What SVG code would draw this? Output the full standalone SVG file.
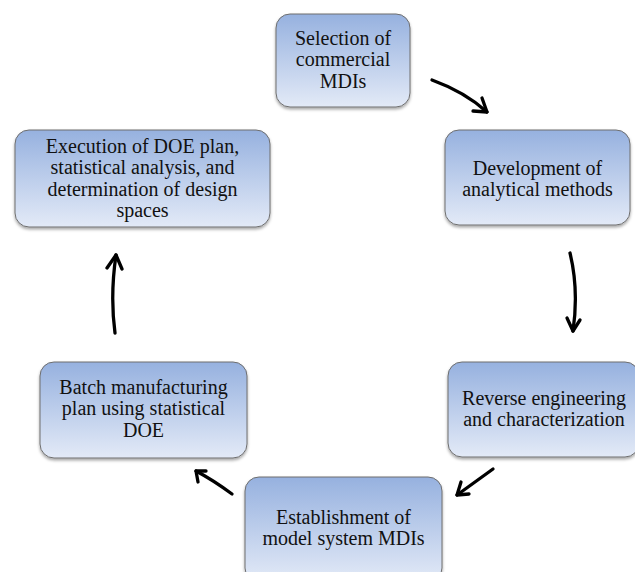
<svg xmlns="http://www.w3.org/2000/svg" width="635" height="572" viewBox="0 0 635 572">
<defs>
<linearGradient id="g" x1="0" y1="0" x2="0" y2="1">
<stop offset="0" stop-color="#96b1df"/>
<stop offset="1" stop-color="#e3eaf7"/>
</linearGradient>
<filter id="sh" x="-10%" y="-10%" width="120%" height="130%">
<feDropShadow dx="0" dy="2" stdDeviation="1.5" flood-color="#000" flood-opacity="0.35"/>
</filter>
</defs>
<style>
.box{fill:url(#g);stroke:#6e6e6e;stroke-width:1;filter:url(#sh)}
.t{font-family:"Liberation Serif",Tinos,"Times New Roman",Times,"Noto Serif","DejaVu Serif",FreeSerif,"Nimbus Roman",serif;font-size:20px;fill:#111;text-anchor:middle}
.a{fill:none;stroke:#000;stroke-width:3.3;stroke-linecap:round;stroke-linejoin:round}
</style>
<rect width="635" height="572" fill="#fff"/>
<g id="n1">
<rect class="box" x="276" y="14" width="134" height="93" rx="14"/>
<text class="t" x="343" y="45">Selection of</text>
<text class="t" x="343" y="66.3">commercial</text>
<text class="t" x="343" y="87.6">MDIs</text>
</g>
<g id="n2">
<rect class="box" x="445" y="130" width="185" height="95" rx="14"/>
<text class="t" x="537.5" y="175">Development of</text>
<text class="t" x="537.5" y="196.3">analytical methods</text>
</g>
<g id="n3">
<rect class="box" x="448" y="362" width="191" height="95" rx="14"/>
<text class="t" x="544" y="405">Reverse engineering</text>
<text class="t" x="544" y="426.3">and characterization</text>
</g>
<g id="n4">
<rect class="box" x="245" y="477" width="197" height="105" rx="14"/>
<text class="t" x="343.5" y="524">Establishment of</text>
<text class="t" x="343.5" y="545.3">model system MDIs</text>
</g>
<g id="n5">
<rect class="box" x="40" y="362" width="207" height="96" rx="14"/>
<text class="t" x="143.5" y="394">Batch manufacturing</text>
<text class="t" x="143.5" y="415.3">plan using statistical</text>
<text class="t" x="143.5" y="436.6">DOE</text>
</g>
<g id="n6">
<rect class="box" x="15" y="130" width="255" height="97" rx="14"/>
<text class="t" x="142.5" y="153">Execution of DOE plan,</text>
<text class="t" x="142.5" y="174.3">statistical analysis, and</text>
<text class="t" x="142.5" y="195.6">determination of design</text>
<text class="t" x="142.5" y="216.9">spaces</text>
</g>
<g id="connectors">
<path class="a" d="M432,80 Q465,92 487,112"/>
<path class="a" d="M482,98 L487,112 L473,111"/>
<path class="a" d="M570,253 Q579,290 573,331"/>
<path class="a" d="M567,318 L573,331 L580,320"/>
<path class="a" d="M493,469 Q475,482 457,495"/>
<path class="a" d="M461,482 L457,495 L469,494"/>
<path class="a" d="M232,494 Q213,480 196,471"/>
<path class="a" d="M206,471 L196,471 L198,482"/>
<path class="a" d="M115,333 Q110,296 116,255"/>
<path class="a" d="M107,268 L116,255 L122,269"/>
</g>
</svg>
